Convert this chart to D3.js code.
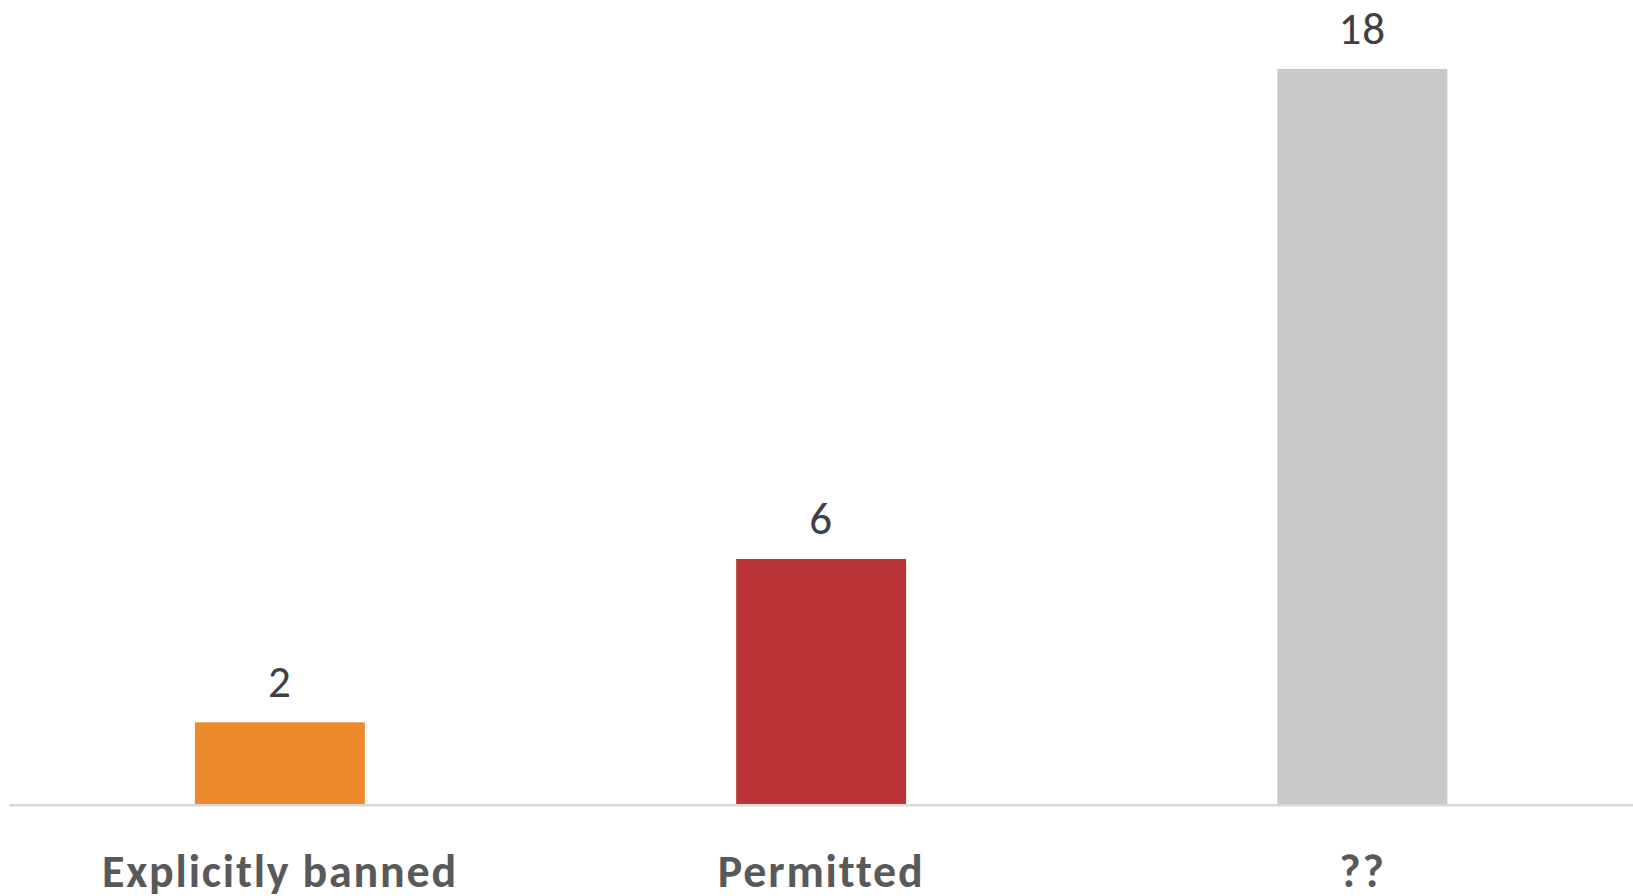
<!DOCTYPE html>
<html>
<head>
<meta charset="utf-8">
<script src="https://cdn.jsdelivr.net/npm/d3@7"></script>
<style>
  html, body { margin: 0; padding: 0; background: #ffffff; }
  svg { display: block; }
</style>
</head>
<body>
<svg id="chart" width="1633" height="896"></svg>
<script>
// Category names, counts and bar colours
const categories = ["Explicitly banned", "Permitted", "??"];
const counts = [2, 6, 18];
const barColors = ["#ed8b2c", "#ba3336", "#c9c9c9"];

const width = 1633, height = 896;
const margin = { left: 9.3, right: 0, top: 69, bottom: 92 };
const baseY = height - margin.bottom; // 804

const svg = d3.select("#chart");
const font = "Carlito, Calibri, Lato, 'Open Sans', sans-serif";

// Equal-width categories; each bar takes ~31% of its slot, centred
const gap = 0.686;
const x = d3.scaleBand()
  .domain(categories)
  .range([margin.left, width - margin.right])
  .paddingInner(gap)
  .paddingOuter(gap / 2);

const y = d3.scaleLinear()
  .domain([0, 18])
  .range([baseY, margin.top]);

const data = categories.map((c, i) => ({ cat: c, value: counts[i], color: barColors[i] }));

// Bars
svg.append("g")
  .selectAll("rect")
  .data(data)
  .join("rect")
  .attr("x", d => x(d.cat))
  .attr("y", d => y(d.value))
  .attr("width", x.bandwidth())
  .attr("height", d => baseY - y(d.value))
  .attr("fill", d => d.color);

// Category axis: baseline rule and bold labels, no ticks
const axis = d3.axisBottom(x).tickSize(0).tickPadding(0);
const gAxis = svg.append("g")
  .attr("transform", `translate(0,${baseY})`)
  .call(axis);
gAxis.select(".domain")
  .attr("stroke", "#d9d9d9")
  .attr("stroke-width", 2.6)
  .attr("d", `M${margin.left},1.3H${width}`);
gAxis.selectAll(".tick text")
  .attr("y", 83)
  .attr("dy", null)
  .attr("fill", "#595959")
  .attr("font-family", font)
  .attr("font-weight", "bold")
  .attr("font-size", 46)
  .attr("letter-spacing", "1.8px")
  .attr("text-anchor", "middle");

// Value labels above each bar
svg.append("g")
  .selectAll("text")
  .data(data)
  .join("text")
  .attr("x", d => x(d.cat) + x.bandwidth() / 2)
  .attr("y", d => y(d.value) - 25)
  .attr("text-anchor", "middle")
  .attr("fill", "#404040")
  .attr("font-family", font)
  .attr("font-size", 45)
  .attr("letter-spacing", "1px")
  .text(d => d.value);
</script>
</body>
</html>
